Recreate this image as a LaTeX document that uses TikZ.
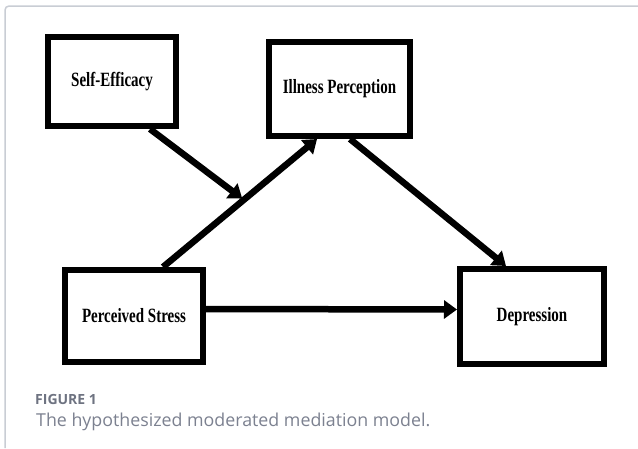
\documentclass[tikz,border=0pt]{standalone}
\usepackage{fontspec}
\setmainfont{Liberation Serif}
\newfontfamily\capfont{Open Sans}
\usetikzlibrary{arrows.meta,calc}
\definecolor{framegray}{HTML}{C9CDD4}
\definecolor{capgray}{HTML}{7C8190}
\definecolor{figgray}{HTML}{6E7381}
\tikzset{
  varbox/.style={draw=black, line width=6pt, fill=white, inner sep=0pt,
    font=\fontsize{15}{17}\selectfont\bfseries},
  patharrow/.style={line width=6.5pt, -{Triangle[length=13pt,width=18pt]}},
}
\newcommand{\tallt}[1]{\scalebox{1}[1.35]{#1}}
\begin{document}
\begin{tikzpicture}[x=1pt,y=-1pt]
\useasboundingbox[fill=white] (0,0) rectangle (638,448);
\draw[framegray, line width=1.5pt, rounded corners=4pt] (5,448) -- (5,6) -- (638,6);

\node[varbox, minimum width=128pt, minimum height=89pt] (se) at (112,81.5) {\tallt{Self-Efficacy}};
\node[varbox, minimum width=141pt, minimum height=94pt] (ip) at (339.5,89) {\tallt{Illness Perception}};
\node[varbox, minimum width=138pt, minimum height=92pt] (ps) at (134,316) {\tallt{Perceived Stress}};
\node[varbox, minimum width=144pt, minimum height=95pt] (dep) at (532,316.5) {\tallt{Depression}};

\draw[patharrow] ([xshift=29pt]ps.north) -- ([xshift=-22.5pt]ip.south)
  coordinate[pos=0.525] (m);
\draw[patharrow, shorten >=2pt] ([xshift=38pt]se.south) -- (m);
\draw[patharrow] ([xshift=10.5pt]ip.south) -- ([xshift=-26pt]dep.north);
\draw[patharrow] ([yshift=7pt]ps.east) -- ([yshift=7pt]dep.west);

\node[anchor=west, inner sep=0pt, text=figgray, font=\capfont\bfseries\fontsize{14}{16}\selectfont] (fig) at (35,399) {FIGURE 1};
\node[anchor=west, inner sep=0pt, text=capgray, font=\capfont\fontsize{17.8}{21}\selectfont] (cap) at (36,422) {The hypothesized moderated mediation model.};
\end{tikzpicture}
\end{document}
